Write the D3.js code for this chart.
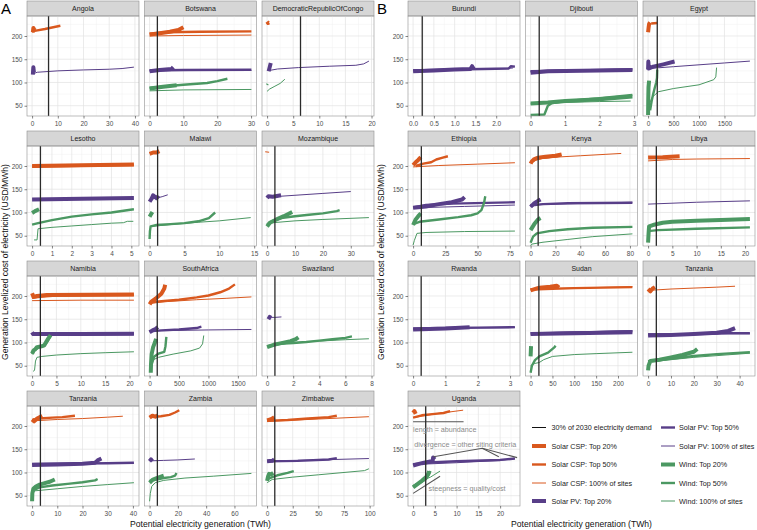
<!DOCTYPE html>
<html>
<head>
<meta charset="utf-8" />
<script src="https://cdn.jsdelivr.net/npm/d3@7"></script>
<style>
  body { margin: 0; background: #fff; }
  svg { font-family: Arial, "Liberation Sans", sans-serif; }
</style>
</head>
<body>
<svg id="chart" width="757" height="530"></svg>
<script>
// panels, in drawing order: block A (4x3) then block B
const panelIds = ["Angola", "Botswana", "DRC", "Lesotho", "Malawi", "Mozambique",
    "Namibia", "SouthAfrica", "Swaziland", "TanzaniaA", "Zambia", "Zimbabwe",
    "Burundi", "Djibouti", "Egypt", "Ethiopia", "Kenya", "Libya",
    "Rwanda", "Sudan", "TanzaniaB", "Uganda"];
const stripLabels = ["Angola", "Botswana", "DemocraticRepublicOfCongo", "Lesotho", "Malawi", "Mozambique",
    "Namibia", "SouthAfrica", "Swaziland", "Tanzania", "Zambia", "Zimbabwe",
    "Burundi", "Djibouti", "Egypt", "Ethiopia", "Kenya", "Libya",
    "Rwanda", "Sudan", "Tanzania", "Uganda"];
const xTicks = [[0, 10, 20, 30, 40], [0, 10, 20, 30], [0, 5, 10, 15, 20], [0, 1, 2, 3, 4, 5], [0, 5, 10, 15], [0, 10, 20, 30],
    [0, 5, 10, 15, 20], [0, 500, 1000, 1500], [0, 2, 4, 6, 8], [0, 10, 20, 30, 40], [0, 20, 40, 60], [0, 25, 50, 75, 100],
    [0, 0.5, 1, 1.5, 2], [0, 1, 2, 3], [0, 500, 1000, 1500], [0, 25, 50, 75], [0, 20, 40, 60, 80], [0, 5, 10, 15, 20],
    [0, 1, 2, 3], [0, 50, 100, 150, 200], [0, 10, 20, 30, 40], [0, 5, 10, 15, 20]];
// upper end of the potential for each panel (TWh)
const xMaxTWh = [39.6, 30.1, 19.5, 5.13, 14.6, 36.5, 20.9, 1730, 7.8, 40.4, 72, 99.3,
    2.45, 2.95, 2000, 79, 82, 21, 3.15, 233, 44.5, 23.4];
// 30% of 2030 electricity demand (TWh)
const demandTWh = [6.4, 2.3, 6.4, 0.42, 1.15, 2.8, 1.7, 130, 0.6, 3.3, 5.5, 7.5,
    0.22, 0.25, 180, 6.4, 6.1, 1.7, 0.25, 19, 3.6, 2.9];
const yTicks = [50, 100, 150, 200];

// supply curves: [panel, [[TWh, USD/MWh], ...]]
const cspTop20 = [
    ["Angola", [[0.3, 208], [0.5, 217], [0.8, 214], [1.2, 212]]],
    ["Botswana", [[0, 203], [3, 206], [6, 209], [8.5, 213], [10, 219]]],
    ["DRC", [[0, 231], [0.2, 228], [0.4, 229]]],
    ["Lesotho", [[0, 200], [2.5, 201.5], [5.13, 203]]],
    ["Malawi", [[0, 226], [0.5, 229], [1, 229], [1.4, 232]]],
    ["Mozambique", [[0, 229], [0.05, 231]]],
    ["Namibia", [[0, 206], [0.3, 198], [1, 200], [3, 202], [20.9, 203]]],
    ["SouthAfrica", [[0, 182], [30, 188], [100, 194], [200, 205], [250, 216], [265, 224]]],
    ["TanzaniaA", [[0, 214], [0.8, 210], [2, 216], [3, 219], [4, 222]]],
    ["Zambia", [[0, 218], [2, 222], [4, 220], [6, 223]]],
    ["Zimbabwe", [[0, 212], [3, 214], [5, 216], [7, 219]]],
    ["Egypt", [[0, 208], [10, 218], [20, 226], [40, 229]]],
    ["Ethiopia", [[0, 202], [2, 208], [4, 213], [6, 219]]],
    ["Kenya", [[0, 205], [1, 210], [3, 215], [6, 218], [12, 220], [20, 222], [25, 225]]],
    ["Libya", [[0, 218], [3, 219], [6.5, 221]]],
    ["Sudan", [[0, 212], [20, 218], [45, 220], [60, 222], [65, 218]]],
    ["TanzaniaB", [[0, 215], [1, 210], [2, 216], [3, 219]]],
    ["Uganda", [[0, 228], [0.3, 232], [0.6, 226]]]
];
const cspTop50 = [
    ["Angola", [[0, 209], [1, 211], [5, 215], [11, 222]]],
    ["Botswana", [[0, 205], [5, 208], [15, 209], [30.1, 210]]],
    ["Lesotho", [[0, 199], [2.5, 200.5], [5.13, 202]]],
    ["Namibia", [[0, 196], [2, 199], [5, 201], [20.9, 202]]],
    ["SouthAfrica", [[0, 186], [200, 189], [500, 192], [800, 197], [1000, 201], [1200, 208], [1350, 216], [1450, 225]]],
    ["TanzaniaA", [[0, 213], [3, 216], [8, 218], [12, 219], [17, 222]]],
    ["Zambia", [[2, 220], [8, 221], [14, 224], [18, 229], [21, 234]]],
    ["Zimbabwe", [[0, 211], [20, 213], [40, 216], [60, 219], [68, 222]]],
    ["Egypt", [[60, 227], [180, 228]]],
    ["Ethiopia", [[2, 200], [8, 205], [14, 208], [18, 214], [23, 218], [27, 221]]],
    ["Kenya", [[0, 207], [4, 214], [10, 218], [24, 222]]],
    ["Sudan", [[0, 214], [100, 217], [233, 219]]],
    ["Uganda", [[0, 218], [2, 223], [5, 226], [7, 228], [8.5, 232]]]
];
const csp100 = [
    ["Botswana", [[0, 200], [10, 201], [30.1, 202]]],
    ["Namibia", [[0, 190], [10, 191], [20.9, 191]]],
    ["SouthAfrica", [[0, 184], [300, 188], [800, 192], [1300, 195], [1730, 198]]],
    ["TanzaniaA", [[0, 211], [10, 214], [20, 216], [30, 219], [36, 221]]],
    ["Zimbabwe", [[0, 210], [50, 215], [99.3, 220]]],
    ["Ethiopia", [[0, 198], [20, 201], [50, 204], [79, 207]]],
    ["Kenya", [[5, 215], [20, 219], [40, 222], [60, 225], [73, 227]]],
    ["Libya", [[0, 211], [5, 214], [10, 215], [21, 216]]],
    ["Sudan", [[0, 215], [233, 220]]],
    ["TanzaniaB", [[0, 212], [10, 215], [20, 217], [30, 219], [38, 221]]],
    ["Uganda", [[0, 218], [5, 226], [11.5, 234]]]
];
const pvTop20 = [
    ["Angola", [[0.3, 117], [0.4, 126], [0.5, 133], [0.7, 122]]],
    ["Botswana", [[0, 124], [3, 127], [6.5, 129], [7, 133]]],
    ["DRC", [[0.3, 124], [0.5, 133], [0.7, 142]]],
    ["Lesotho", [[0, 128], [2.5, 129.5], [5.13, 131]]],
    ["Malawi", [[0, 123], [0.3, 130], [0.5, 137], [1, 131], [1.3, 136]]],
    ["Mozambique", [[0, 131], [0.5, 135], [2, 134], [4, 136], [5, 137]]],
    ["Namibia", [[0, 122], [0.2, 118], [10, 118.5], [20.9, 119]]],
    ["SouthAfrica", [[0, 122], [50, 126], [100, 129], [140, 133]]],
    ["Swaziland", [[0.1, 150], [0.2, 155], [0.3, 153]]],
    ["TanzaniaA", [[0, 116], [10, 117], [20, 119], [25, 121], [26, 126], [27.5, 130]]],
    ["Zambia", [[0, 124], [1, 128], [2, 124]]],
    ["Zimbabwe", [[0, 124], [5, 125], [7, 128]]],
    ["Burundi", [[0, 124], [0.5, 126], [1, 128], [1.38, 129], [1.42, 135], [1.46, 129]]],
    ["Djibouti", [[0, 121], [0.5, 124], [1.5, 125], [2.95, 127]]],
    ["Egypt", [[0, 128], [5, 145], [15, 130], [100, 134], [300, 139], [520, 145]]],
    ["Ethiopia", [[0, 110], [10, 113], [20, 118], [30, 122], [38, 128], [40, 133]]],
    ["Kenya", [[0, 112], [3, 120], [6, 125], [8, 128]]],
    ["Rwanda", [[0, 128], [1, 130], [1.75, 133]]],
    ["Sudan", [[0, 118], [100, 120], [233, 122]]],
    ["TanzaniaB", [[0, 115], [10, 116], [20, 118], [30, 121], [35, 125], [38, 131]]],
    ["Uganda", [[0, 115], [2, 120], [4.5, 125], [4.6, 132], [5, 128]]]
];
const pvTop50 = [
    ["Botswana", [[0, 126], [10, 127], [30.1, 127.5]]],
    ["Namibia", [[0, 117], [20.9, 118]]],
    ["SouthAfrica", [[0, 124], [200, 126], [500, 128], [800, 131], [880, 134]]],
    ["TanzaniaA", [[0, 118], [15, 119], [30, 120], [40.4, 121]]],
    ["Zimbabwe", [[0, 124], [30, 125], [60, 128], [68, 131]]],
    ["Burundi", [[0, 126], [1, 128], [2.3, 130], [2.35, 135], [2.45, 134]]],
    ["Djibouti", [[0, 124], [2.95, 128]]],
    ["Ethiopia", [[0, 111], [10, 116], [30, 119], [79, 122]]],
    ["Kenya", [[0, 115], [10, 118], [30, 120], [82, 121]]],
    ["Rwanda", [[0, 130], [1, 131], [2, 132], [3.15, 133]]],
    ["Sudan", [[0, 119], [233, 124]]],
    ["TanzaniaB", [[0, 117], [20, 118], [35, 120], [44.5, 120]]],
    ["Uganda", [[0, 118], [5, 122], [10, 124], [20, 127], [23.4, 130]]]
];
const pv100 = [
    ["Angola", [[0.5, 119], [2, 122], [10, 125], [20, 127], [30, 128.5], [35, 130], [39.6, 133]]],
    ["Botswana", [[0, 125], [15, 126], [30.1, 126]]],
    ["DRC", [[0.5, 126], [2, 129], [6, 132], [12, 135], [17, 137], [18.5, 140], [19.5, 146]]],
    ["Malawi", [[0, 128], [1, 131], [1.8, 134], [2.6, 138]]],
    ["Mozambique", [[0, 132], [5, 135], [10, 137], [20, 141], [30, 145]]],
    ["Namibia", [[0, 120], [20.9, 121]]],
    ["SouthAfrica", [[0, 125], [500, 126], [1000, 127], [1730, 128]]],
    ["Swaziland", [[0.2, 154], [0.6, 154], [1.1, 155]]],
    ["TanzaniaA", [[0, 120], [40.4, 120]]],
    ["Zambia", [[0, 125], [10, 126], [20, 127], [32, 129]]],
    ["Zimbabwe", [[0, 125], [50, 127], [99.3, 130]]],
    ["Burundi", [[0, 127], [1, 128], [2.4, 131]]],
    ["Djibouti", [[0, 125], [2.95, 129]]],
    ["Egypt", [[0, 130], [500, 134], [1000, 138], [1500, 142], [2000, 146]]],
    ["Ethiopia", [[0, 110], [40, 113], [79, 116]]],
    ["Kenya", [[0, 117], [82, 122]]],
    ["Libya", [[0, 118], [10, 122], [21, 125]]],
    ["Rwanda", [[0, 130], [3.15, 132]]],
    ["Sudan", [[0, 121], [233, 125]]],
    ["TanzaniaB", [[0, 119], [44.5, 119]]],
    ["Uganda", [[0, 117], [10, 121], [20, 126], [23.4, 130]]]
];
const windTop20 = [
    ["Botswana", [[0, 87], [4, 91], [8, 94]]],
    ["Lesotho", [[0, 99], [0.15, 103], [0.35, 107]]],
    ["Malawi", [[0, 91], [0.2, 96], [0.4, 101]]],
    ["Mozambique", [[0, 70], [1, 78], [3, 84], [6, 92], [9, 101]]],
    ["Namibia", [[0, 76], [0.3, 83], [0.6, 85], [1, 90], [2, 92], [2.5, 94], [3.1, 105], [3.8, 116]]],
    ["SouthAfrica", [[20, 35], [25, 55], [35, 75], [60, 90], [90, 100], [110, 108]]],
    ["Swaziland", [[0, 90], [0.5, 95], [1, 98], [1.8, 103], [2.2, 107], [2.4, 111]]],
    ["TanzaniaA", [[0, 38], [0.1, 55], [0.5, 65], [1.5, 70], [3, 74], [5, 77], [7, 80], [9, 85]]],
    ["Zambia", [[0, 78], [2, 84], [5, 88], [8, 91], [10, 93]]],
    ["Zimbabwe", [[0, 82], [1, 92], [2, 97], [4, 96], [6, 99]]],
    ["Djibouti", [[0, 55], [0.5, 57], [1, 60], [2, 64], [2.95, 70]]],
    ["Egypt", [[0, 30], [3, 60], [8, 90], [20, 104]]],
    ["Ethiopia", [[0, 73], [2, 85], [4, 92], [6, 98]]],
    ["Kenya", [[0, 62], [3, 75], [6, 85], [8, 88]]],
    ["Libya", [[0, 35], [0.1, 55], [0.2, 70], [1, 73], [3, 78], [5, 80], [10, 82], [15, 84], [21, 86]]],
    ["Sudan", [[0, 70], [0.5, 80], [1, 92]]],
    ["TanzaniaB", [[0, 40], [0.2, 50], [1, 60], [5, 63], [10, 68], [15, 73], [20, 80], [21.5, 86]]],
    ["Uganda", [[0, 68], [1, 75], [2, 82], [3, 90], [3.5, 97], [3.7, 103]]]
];
const windTop50 = [
    ["Botswana", [[0, 88], [5, 92], [10, 95], [17, 99], [20, 103], [23, 108]]],
    ["DRC", [[0, 95], [0.1, 97]]],
    ["Lesotho", [[0, 74], [0.3, 77], [1, 83.5], [2, 91], [3, 96], [4, 100], [5.13, 107]]],
    ["Malawi", [[0, 43], [0.05, 60], [0.15, 70], [1, 73], [3, 75], [5, 77], [7, 81], [8.5, 88], [9.4, 100]]],
    ["Mozambique", [[0, 74], [2, 82], [5, 88], [10, 92], [15, 95], [20, 98], [25, 103], [26, 105]]],
    ["Namibia", [[0, 75], [0.5, 84], [1.5, 90], [2.5, 93], [3.2, 103], [3.8, 115]]],
    ["SouthAfrica", [[40, 55], [80, 70], [150, 76], [250, 80], [270, 92], [285, 112]]],
    ["Swaziland", [[0, 92], [1, 97], [2, 99], [3, 101], [4, 104], [5, 107], [6, 110], [6.5, 113]]],
    ["TanzaniaA", [[0, 58], [1, 63], [3, 68], [8, 72], [15, 76], [20, 79], [25, 83], [26, 86]]],
    ["Zambia", [[0, 82], [5, 85], [10, 88], [15, 90], [18, 93], [19, 99]]],
    ["Zimbabwe", [[0, 85], [5, 90], [10, 94], [20, 99], [26, 103]]],
    ["Djibouti", [[0, 30], [0.4, 31], [0.5, 50], [0.6, 55], [1, 60], [2, 66], [2.95, 73]]],
    ["Egypt", [[40, 40], [70, 60], [100, 75], [130, 88], [160, 100], [175, 110], [180, 128]]],
    ["Ethiopia", [[0, 75], [5, 80], [20, 85], [35, 90], [45, 94], [50, 98], [53, 105], [55, 120], [56, 135]]],
    ["Kenya", [[0, 35], [2, 48], [5, 55], [15, 60], [30, 64], [50, 67], [82, 69]]],
    ["Libya", [[0, 60], [2, 62], [10, 65], [21, 68]]],
    ["Sudan", [[0, 35], [3, 50], [10, 62], [20, 70], [40, 78], [55, 90], [57, 93]]],
    ["TanzaniaB", [[0, 60], [10, 65], [20, 71], [30, 75], [44.5, 79]]],
    ["Uganda", [[0, 70], [2, 80], [3, 86], [3.6, 95], [4, 103]]]
];
const wind100 = [
    ["Botswana", [[0, 82], [10, 84], [30.1, 85]]],
    ["DRC", [[0, 81], [0.5, 86], [1.5, 92], [2.5, 98], [3.4, 107]]],
    ["Lesotho", [[0.1, 41], [0.25, 41], [0.3, 65], [1, 68], [2, 71], [3, 74], [4, 77], [4.6, 78], [4.8, 81], [5.1, 81]]],
    ["Malawi", [[0.2, 70], [3, 74], [7, 79], [10, 82], [14.5, 89]]],
    ["Mozambique", [[2, 78], [10, 82], [20, 85], [36.5, 89]]],
    ["Namibia", [[0.2, 38], [0.5, 40], [0.7, 60], [1, 68], [2, 70], [5, 73], [10, 76], [15, 78], [20.9, 80]]],
    ["SouthAfrica", [[0, 52], [50, 62], [150, 68], [400, 75], [700, 82], [850, 88], [900, 97], [920, 115]]],
    ["Swaziland", [[0, 93], [2, 100], [4, 103], [6, 106], [7.8, 108]]],
    ["TanzaniaA", [[0, 60], [10, 65], [20, 70], [30, 74], [40.4, 78]]],
    ["Zambia", [[0, 38], [0.5, 55], [1.5, 70], [4, 78], [10, 83], [25, 88], [45, 92], [72, 98]]],
    ["Zimbabwe", [[0, 78], [5, 85], [25, 90], [50, 95], [75, 100], [95, 104], [99.3, 108]]],
    ["Djibouti", [[0, 54], [1, 57], [2, 59], [2.9, 60]]],
    ["Egypt", [[0, 35], [30, 55], [80, 68], [200, 80], [500, 87], [1000, 95], [1290, 106], [1330, 112], [1345, 132]]],
    ["Ethiopia", [[0, 30], [1, 40], [3, 55], [10, 57], [40, 59], [79, 60]]],
    ["Kenya", [[0, 28], [1, 32], [10, 36], [30, 42], [50, 48], [82, 54]]],
    ["Sudan", [[0, 50], [10, 55], [20, 57], [30, 63], [50, 70], [100, 74], [150, 76], [233, 79]]],
    ["TanzaniaB", [[0, 58], [20, 68], [44.5, 77]]],
    ["Uganda", [[0, 72], [2, 82], [4, 90], [5, 96], [6.2, 103]]]
];

// explanatory marks in the Uganda panel
const noteLines = [
    [[0, 209], [11.6, 209]],
    [[4.7, 134], [15.9, 152], [19.7, 134]],
    [[15.9, 152], [23.9, 132]],
    [[0, 55], [6.2, 92]]
];
const noteTexts = [
    ["length = abundance", 0, 193, "start"],
    ["divergence = other siting criteria", 12, 160, "middle"],
    ["steepness = quality/cost", 12.4, 65, "middle"]
];

const cspColor = "#d9581e", pvColor = "#583e88", windColor = "#4b9862";
const series = [
    { label: "Solar CSP: Top 20%", data: cspTop20, color: cspColor, width: 4 },
    { label: "Solar CSP: Top 50%", data: cspTop50, color: cspColor, width: 2.4 },
    { label: "Solar CSP: 100% of sites", data: csp100, color: cspColor, width: 1 },
    { label: "Solar PV: Top 20%", data: pvTop20, color: pvColor, width: 4 },
    { label: "Solar PV: Top 50%", data: pvTop50, color: pvColor, width: 2.4 },
    { label: "Solar PV: 100% of sites", data: pv100, color: pvColor, width: 1 },
    { label: "Wind: Top 20%", data: windTop20, color: windColor, width: 4 },
    { label: "Wind: Top 50%", data: windTop50, color: windColor, width: 2.4 },
    { label: "Wind: 100% of sites", data: wind100, color: windColor, width: 1 }
];

const svg = d3.select("#chart");

// layout
const blockX = [[27, 144.5, 262], [408, 525.5, 643]];
const panelW = 112, stripH = 15, plotH = 100, rowPitch = 130, firstRowY = 1;
const yDomain = [27.9, 243];

const gridMajor = "#e3e3e3", gridMinor = "#f1f1f1";

panelIds.forEach((id, i) => {
    const block = i < 12 ? 0 : 1;
    const k = block === 0 ? i : i - 12;
    const col = k % 3, row = Math.floor(k / 3);
    const x0 = blockX[block][col];
    const sTop = firstRowY + row * rowPitch;
    const pTop = sTop + stripH;
    const pBot = pTop + plotH;

    const xMax = xMaxTWh[i];
    const x = d3.scaleLinear().domain([-0.05 * xMax, 1.05 * xMax]).range([x0, x0 + panelW]);
    const y = d3.scaleLinear().domain(yDomain).range([pBot, pTop]);

    const g = svg.append("g");

    // strip
    g.append("rect").attr("x", x0).attr("y", sTop).attr("width", panelW).attr("height", stripH)
        .attr("fill", "#d6d6d6").attr("stroke", "#8f8f8f").attr("stroke-width", 0.6);
    g.append("text").attr("x", x0 + panelW / 2).attr("y", sTop + stripH / 2 + 2.5)
        .attr("text-anchor", "middle").attr("font-size", 7).attr("fill", "#1a1a1a")
        .text(stripLabels[i]);

    // grid
    const ticks = xTicks[i];
    const step = ticks[1] - ticks[0];
    const minorX = d3.range(ticks[0] - step / 2, x.domain()[1], step)
        .filter(v => v > x.domain()[0]);
    g.selectAll(null).data(minorX).join("line")
        .attr("x1", d => x(d)).attr("x2", d => x(d)).attr("y1", pTop).attr("y2", pBot)
        .attr("stroke", gridMinor).attr("stroke-width", 0.5);
    const minorY = [75, 125, 175, 225];
    g.selectAll(null).data(minorY).join("line")
        .attr("x1", x0).attr("x2", x0 + panelW).attr("y1", d => y(d)).attr("y2", d => y(d))
        .attr("stroke", gridMinor).attr("stroke-width", 0.5);
    g.selectAll(null).data(ticks).join("line")
        .attr("x1", d => x(d)).attr("x2", d => x(d)).attr("y1", pTop).attr("y2", pBot)
        .attr("stroke", gridMajor).attr("stroke-width", 0.7);
    g.selectAll(null).data(yTicks).join("line")
        .attr("x1", x0).attr("x2", x0 + panelW).attr("y1", d => y(d)).attr("y2", d => y(d))
        .attr("stroke", gridMajor).attr("stroke-width", 0.7);

    // curves
    const clipId = "clip" + i;
    svg.append("clipPath").attr("id", clipId).append("rect")
        .attr("x", x0).attr("y", pTop).attr("width", panelW).attr("height", plotH);
    const curves = g.append("g").attr("clip-path", `url(#${clipId})`);
    const line = d3.line().x(d => x(d[0])).y(d => y(d[1]));
    series.forEach(s => {
        s.data.filter(d => d[0] === id).forEach(d => {
            curves.append("path").attr("d", line(d[1])).attr("fill", "none")
                .attr("stroke", s.color).attr("stroke-width", s.width)
                .attr("stroke-linejoin", "round").attr("stroke-linecap", "butt");
        });
    });

    if (id === "Uganda") {
        noteLines.forEach(pts => {
            curves.append("path").attr("d", line(pts)).attr("fill", "none")
                .attr("stroke", "#555").attr("stroke-width", 1.1);
        });
        noteTexts.forEach(t => {
            g.append("text").attr("x", x(t[1])).attr("y", y(t[2]) + 2.5)
                .attr("text-anchor", t[3]).attr("font-size", 7.2).attr("fill", "#8a8a8a")
                .text(t[0]);
        });
    }

    // demand line
    curves.append("line").attr("x1", x(demandTWh[i])).attr("x2", x(demandTWh[i]))
        .attr("y1", pTop).attr("y2", pBot).attr("stroke", "#2b2b2b").attr("stroke-width", 1.3);

    // border
    g.append("rect").attr("x", x0).attr("y", pTop).attr("width", panelW).attr("height", plotH)
        .attr("fill", "none").attr("stroke", "#8f8f8f").attr("stroke-width", 0.6);

    // x axis
    const fmt = id === "Burundi" ? d3.format(".1f") : d3.format("");
    const xa = g.append("g").attr("transform", `translate(0,${pBot})`)
        .call(d3.axisBottom(x).tickValues(ticks).tickSize(2.5).tickSizeOuter(0).tickFormat(fmt));
    xa.select(".domain").remove();
    xa.selectAll("line").attr("stroke", "#333").attr("stroke-width", 0.6);
    xa.selectAll("text").attr("font-size", 6.5).attr("fill", "#4d4d4d").attr("dy", "0.72em")
        .attr("y", 5).attr("font-family", null);

    // y axis
    if (col === 0) {
        const ya = g.append("g").attr("transform", `translate(${x0},0)`)
            .call(d3.axisLeft(y).tickValues(yTicks).tickSize(2.5).tickSizeOuter(0));
        ya.select(".domain").remove();
        ya.selectAll("line").attr("stroke", "#333").attr("stroke-width", 0.6);
        ya.selectAll("text").attr("font-size", 6.5).attr("fill", "#4d4d4d").attr("x", -4.5)
            .attr("font-family", null);
    }
});

// block labels and axis titles
[["A", 1, 200.5, 4.5], ["B", 377, 581.5, 380.5]].forEach(([lab, lx, titleX, yTitleX]) => {
    svg.append("text").attr("x", lx).attr("y", 14).attr("font-size", 15).attr("fill", "#000").text(lab);
    svg.append("text").attr("x", titleX).attr("y", 527).attr("text-anchor", "middle")
        .attr("font-size", 8.6).attr("fill", "#111").text("Potential electricity generation (TWh)");
    svg.append("text").attr("transform", `translate(${yTitleX + 3},${262}) rotate(-90)`)
        .attr("text-anchor", "middle").attr("font-size", 8.6).attr("fill", "#111")
        .text("Generation Levelized cost of electricity (USD/MWh)");
});

// legend
const legendItems = [{ label: "30% of 2030 electricity demand", color: "#111", width: 1 }].concat(series);
const legendCols = [[532, 551.5], [661, 679]];
const legendRows = [427.5, 446, 464.5, 483, 501];
legendItems.forEach((it, j) => {
    const c = Math.floor(j / 5), r = j % 5;
    const [kx, tx] = legendCols[c];
    const ly = legendRows[r];
    svg.append("line").attr("x1", kx).attr("x2", kx + 14).attr("y1", ly).attr("y2", ly)
        .attr("stroke", it.color).attr("stroke-width", it.width);
    svg.append("text").attr("x", tx).attr("y", ly + 2.5).attr("font-size", 7.2).attr("fill", "#1a1a1a")
        .text(it.label);
});
</script>
</body>
</html>
